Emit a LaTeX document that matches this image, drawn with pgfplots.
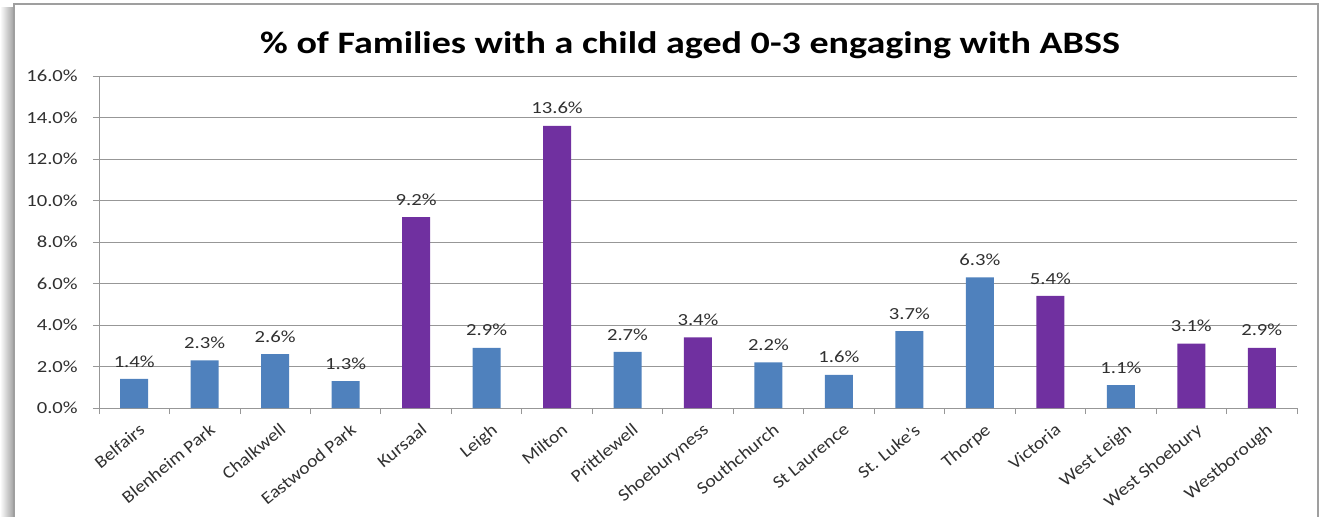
\documentclass[border=0pt]{standalone}
\usepackage{pgfplots}
\pgfplotsset{compat=1.18}
\usepackage{fontspec}
\setmainfont{Carlito}
\definecolor{barblue}{HTML}{4F81BD}
\definecolor{barpurple}{HTML}{7030A0}
\definecolor{gridgray}{HTML}{979797}
\definecolor{txt}{HTML}{303030}
\begin{document}
\begin{tikzpicture}
\useasboundingbox (0,0) rectangle (1321bp,517bp);
\shade[left color=white, right color=gray!75] (0,0) rectangle (14bp,509bp);
\draw[gray!75, line width=1.6bp] (14bp,-5bp) -- (14bp,513bp) -- (1318bp,513bp) -- (1318bp,-5bp);
\node[font=\bfseries\fontsize{31.3}{36}\selectfont, text=black, xscale=1.22] at (690bp,472bp) {\% of Families with a child aged 0-3 engaging with ABSS};
\begin{axis}[
  at={(99bp,109bp)}, anchor=south west,
  width=1198bp, height=332bp, scale only axis,
  xmin=-0.5, xmax=16.5, ymin=0, ymax=16,
  ybar, bar width=28bp, bar shift=0pt,
  axis x line*=bottom, axis y line*=left,
  axis line style={gridgray, line width=0.8bp},
  ymajorgrids, grid style={gridgray, line width=0.8bp},
  ytick={0,2,...,16},
  yticklabel={\pgfmathprintnumber[fixed,fixed zerofill,precision=1]{\tick}\%},
  /pgf/number format/assume math mode=true,
  y tick label style={font=\fontsize{17}{20}\selectfont, text=txt, xscale=1.22, xshift=-9bp},
  xtick={0,...,16},
  xticklabels={Belfairs,Blenheim Park,Chalkwell,Eastwood Park,Kursaal,Leigh,Milton,Prittlewell,Shoeburyness,Southchurch,St Laurence,St. Luke's,Thorpe,Victoria,West Leigh,West Shoebury,Westborough},
  x tick label style={font=\fontsize{17.6}{20}\selectfont, text=txt, rotate=39.3, xscale=1.115, anchor=north east, inner sep=2bp, yshift=-7bp},
  major x tick style={draw=none},
  minor xtick={-0.5,0.5,...,16.5},
  tick align=outside,
  tick style={gridgray, line width=0.8bp},
  major tick length=6bp, minor tick length=6bp,
  nodes near coords={\pgfmathprintnumber[fixed,fixed zerofill,precision=1]{\pgfplotspointmeta}\%},
  nodes near coords style={font=\fontsize{17}{20}\selectfont, text=txt, xscale=1.22, inner sep=5.5bp, yshift=6bp},
  clip=false,
]
\addplot[fill=barblue, draw=none] coordinates {(0,1.4) (1,2.3) (2,2.6) (3,1.3) (5,2.9) (7,2.7) (9,2.2) (10,1.6) (11,3.7) (12,6.3) (14,1.1)};
\addplot[fill=barpurple, draw=none] coordinates {(4,9.2) (6,13.6) (8,3.4) (13,5.4) (15,3.1) (16,2.9)};
\end{axis}
\end{tikzpicture}
\end{document}
